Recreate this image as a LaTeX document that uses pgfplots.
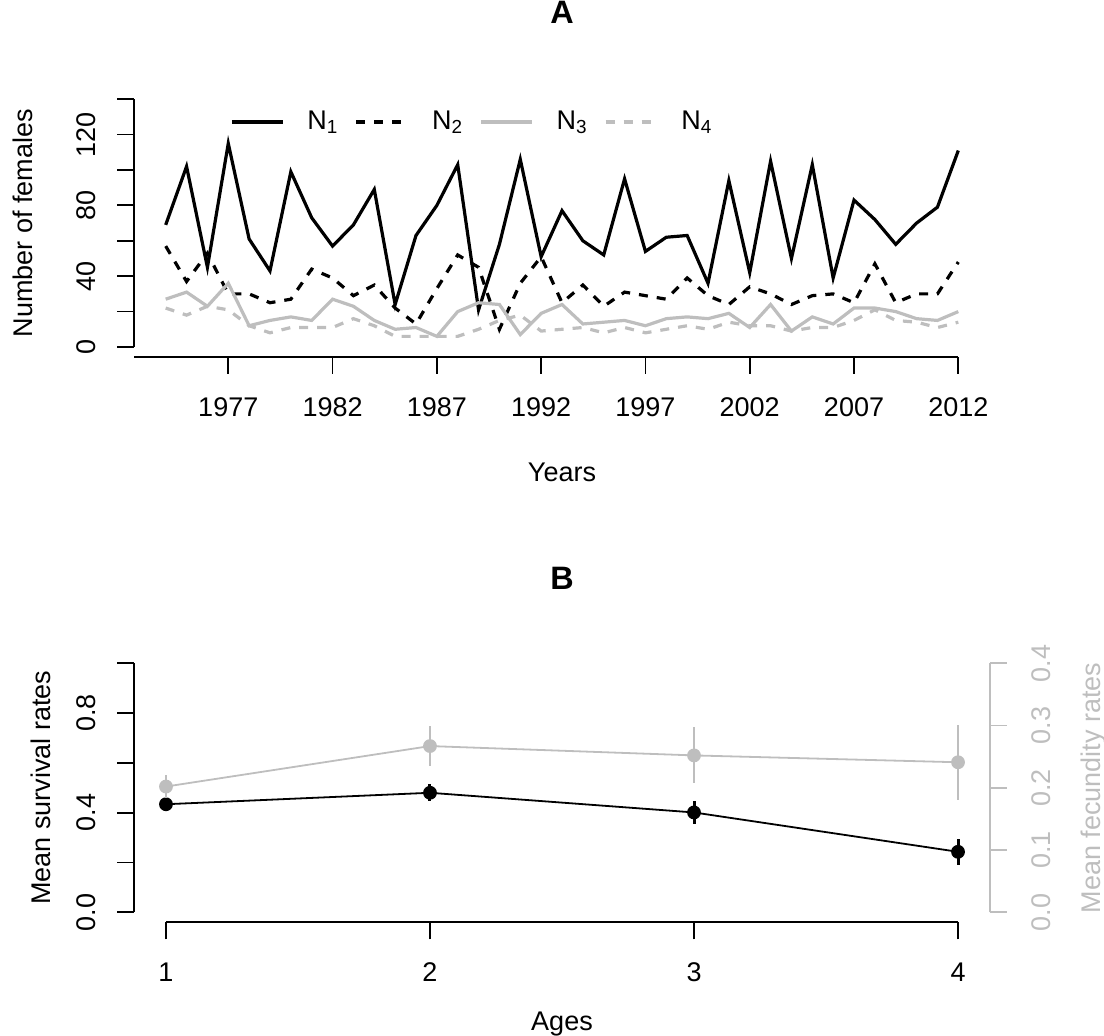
\documentclass[border=0pt]{standalone}
\usepackage{fontspec}
\setmainfont{Liberation Sans}
\usepackage{pgfplots}
\usepackage{pgfplotstable}
\pgfplotsset{compat=1.18}
\definecolor{rgrey}{RGB}{190,190,190}

\pgfplotstableread{
year N1 N2 N3 N4
1974 69 57 27 22
1975 102 37 31 18
1976 45 53 23 23
1977 115 30 36 21
1978 61 30 12 12
1979 43 25 15 8
1980 99 27 17 11
1981 73 44 15 11
1982 57 39 27 11
1983 69 29 23 16
1984 89 35 15 12
1985 24 22 10 6
1986 63 13 11 6
1987 80 33 6 6
1988 103 52 20 6
1989 21 45 25 10
1990 58 10 24 15
1991 106 36 7 18
1992 51 51 19 9
1993 77 25 24 10
1994 60 35 13 11
1995 52 23 14 8
1996 95 31 15 11
1997 54 29 12 8
1998 62 27 16 10
1999 63 39 17 12
2000 36 29 16 10
2001 94 24 19 14
2002 42 34 11 12
2003 105 30 24 12
2004 50 24 9 9
2005 103 29 17 11
2006 39 30 13 11
2007 83 25 22 15
2008 72 47 22 21
2009 58 25 20 15
2010 70 30 16 14
2011 79 30 15 11
2012 111 48 20 14
}\popdata

\begin{document}
\fontsize{13.5bp}{16bp}\selectfont
\begin{tikzpicture}
\useasboundingbox (0,0) rectangle (552bp,518bp);
\pgfplotsset{
  rstyle/.style={
    scale only axis,
    clip=false,
    axis x line*=bottom, axis y line*=left,
    axis line style={draw=none},
    tick align=outside, major tick length=8.5bp,
    every tick/.style={black, line width=0.9bp},
    xticklabel style={anchor=base, yshift=-21.3bp, inner sep=0pt},
    /pgf/number format/assume math mode=true,
    title style={at={(axis description cs:0.5,1)}, anchor=base, font=\fontsize{16.2bp}{19bp}\selectfont\bfseries},
    xlabel style={at={(axis description cs:0.5,0)}, anchor=base},
    ylabel style={anchor=base},
  }
}
% ---------------- Panel A ----------------
\begin{axis}[rstyle,
  at={(67bp,339.55bp)}, anchor=south west, width=428bp, height=133.8bp,
  xmin=1972.48, xmax=2013.52, ymin=-5.6, ymax=145.6,
  xtick={1977,1982,1987,1992,1997,2002,2007,2012},
  xticklabels={1977,1982,1987,1992,1997,2002,2007,2012},
  ytick={0,20,40,60,80,100,120,140},
  yticklabels={0,,40,,80,,120,},
  yticklabel style={xshift=-10.7bp, rotate=90, anchor=base, inner sep=0pt},
  title={A}, title style={yshift=27.15bp},
  xlabel={Years}, xlabel style={yshift=-62.4bp},
  ylabel={Number of females}, ylabel style={at={(axis description cs:-0.118,0.5)}},
  legend columns=4,
  legend image code/.code={\draw[#1] (0bp,0bp) -- (25.5bp,0bp);},
  legend style={draw=none, fill=none, at={(axis description cs:0.112,0.878)}, anchor=west,
    inner sep=0pt, nodes={inner sep=0pt},
    /tikz/every odd column/.append style={column sep=11.5bp},
    /tikz/every even column/.append style={column sep=8.2bp}},
]
\addplot[black, line width=1.6bp] table[x=year,y=N1]{\popdata};
\addlegendentry{N\textsubscript{1}}
\addplot[black, line width=1.6bp, dash pattern=on 4.5bp off 4.5bp] table[x=year,y=N2]{\popdata};
\addlegendentry{N\textsubscript{2}}
\addplot[rgrey, line width=1.6bp] table[x=year,y=N3]{\popdata};
\addlegendentry{N\textsubscript{3}}
\addplot[rgrey, line width=1.6bp, dash pattern=on 4.5bp off 4.5bp] table[x=year,y=N4]{\popdata};
\addlegendentry{N\textsubscript{4}}
\draw[line width=0.9bp] (axis cs:1972.48,-5.6) -- (axis cs:2012,-5.6);
\draw[line width=0.9bp] (axis cs:1972.48,0) -- (axis cs:1972.48,140);
\end{axis}
% ---------------- Panel B ----------------
\begin{axis}[rstyle,
  at={(67.15bp,56.85bp)}, anchor=south west, width=427.7bp, height=134.5bp,
  xmin=0.88, xmax=4.12, ymin=-0.04, ymax=1.04,
  xtick={1,2,3,4}, xticklabels={1,2,3,4},
  ytick={0,0.2,0.4,0.6,0.8,1},
  yticklabels={0.0,,0.4,,0.8,},
  yticklabel style={xshift=-10.7bp, rotate=90, anchor=base, inner sep=0pt},
  title={B}, title style={yshift=26.15bp},
  xlabel={Ages}, xlabel style={yshift=-53.9bp},
  ylabel={Mean survival rates}, ylabel style={at={(axis description cs:-0.0982,0.5)}},
]
\addplot[black, line width=0.9bp, mark=*, mark size=3bp,
  error bars/.cd, y dir=both, y explicit, error mark=none,
  error bar style={line width=1.5bp, black}]
  coordinates {(1,0.434) +- (0,0.025) (2,0.480) +- (0,0.035) (3,0.401) +- (0,0.045) (4,0.243) +- (0,0.052)};
\draw[line width=0.9bp] (axis cs:1,-0.04) -- (axis cs:4,-0.04);
\draw[line width=0.9bp] (axis cs:0.88,0) -- (axis cs:0.88,1);
\end{axis}
\begin{axis}[rstyle,
  at={(67.15bp,56.85bp)}, anchor=south west, width=427.7bp, height=134.5bp,
  xmin=0.88, xmax=4.12, ymin=-0.016, ymax=0.416,
  hide x axis, axis y line*=right,
  every tick/.append style={rgrey},
  ytick={0,0.1,0.2,0.3,0.4},
  yticklabels={0.0,0.1,0.2,0.3,0.4},
  yticklabel style={xshift=22bp, rotate=90, anchor=base, inner sep=0pt, text=rgrey},
  ylabel={Mean fecundity rates}, ylabel style={at={(axis description cs:1.1294,0.5)}, text=rgrey},
]
\addplot[rgrey, line width=0.9bp, mark=*, mark size=3bp, mark options={fill=rgrey},
  error bars/.cd, y dir=both, y explicit, error mark=none,
  error bar style={line width=0.9bp, rgrey}]
  coordinates {(1,0.202) +- (0,0.019) (2,0.267) +- (0,0.032) (3,0.252) +- (0,0.045) (4,0.241) +- (0,0.06)};
\draw[line width=0.9bp, rgrey] (axis cs:4.12,0) -- (axis cs:4.12,0.4);
\end{axis}
\end{tikzpicture}
\end{document}
